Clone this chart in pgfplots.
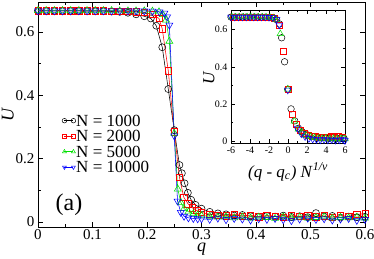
\documentclass[border=0pt]{standalone}
\usepackage{fontspec}
\setmainfont{Liberation Serif}
\usepackage{pgfplots}
\pgfplotsset{compat=1.18}
\definecolor{cred}{RGB}{255,0,0}
\definecolor{cgreen}{RGB}{0,225,0}
\definecolor{cblue}{RGB}{0,0,255}
\begin{document}
\begin{tikzpicture}
\path[use as bounding box] (-38pt,-31pt) rectangle (336pt,227pt);
\begin{axis}[at={(0pt,0pt)}, anchor=south west, scale only axis,
  width=327pt, height=225pt,
  xmin=0, xmax=0.6, ymin=-0.016, ymax=0.695,
  xtick={0,0.1,0.2,0.3,0.4,0.5,0.6}, xticklabels={0,0.1,0.2,0.3,0.4,0.5,0.6},
  ytick={0,0.2,0.4,0.6}, yticklabels={0,0.2,0.4,0.6},
  minor x tick num=1, minor y tick num=1,
  tick pos=both, tick align=inside,
  major tick length=5pt, minor tick length=3pt,
  every tick/.style={black, line width=0.6pt},
  axis line style={line width=0.8pt},
  tick label style={font=\fontsize{15}{15}\selectfont},
  xticklabel style={yshift=1pt},
  xlabel={\textit{q}}, ylabel={\textit{U}},
  label style={font=\fontsize{18}{18}\selectfont},
  xlabel style={at={(axis description cs:0.5,-0.11)}, anchor=base},
  ylabel style={at={(axis description cs:-0.092,0.5)}, anchor=center},
  legend style={draw=none, fill=none, at={(0.064,0.51)}, anchor=north west,
    font=\fontsize{17}{17}\selectfont, nodes={inner sep=0.5pt, text height=11.5pt, text depth=0pt}, row sep=3pt},
  legend cell align=left,
  legend image code/.code={\draw[#1, mark size=2.3pt, line width=0.5pt] plot coordinates {(0pt,0pt) (9pt,0pt)};},
]
\addplot[black, line width=0.55pt, mark=o, mark size=3.5pt] coordinates {
(0,0.667)(0.015,0.667)(0.03,0.667)(0.045,0.667)(0.06,0.667)(0.075,0.667)(0.09,0.666)(0.105,0.666)(0.12,0.666)(0.135,0.665)(0.15,0.664)(0.165,0.661)(0.18,0.656)(0.195,0.650)(0.207,0.643)(0.217,0.620)(0.228,0.552)(0.239,0.420)(0.25,0.290)(0.2595,0.180)(0.264,0.154)(0.269,0.122)(0.275,0.092)(0.281,0.070)(0.289,0.054)(0.30,0.042)(0.315,0.032)(0.33,0.027)(0.345,0.024)(0.36,0.020)(0.375,0.022)(0.39,0.018)(0.405,0.016)(0.42,0.019)(0.435,0.017)(0.45,0.020)(0.465,0.016)(0.48,0.018)(0.495,0.015)(0.51,0.028)(0.525,0.017)(0.54,0.019)(0.555,0.014)(0.57,0.017)(0.585,0.015)(0.60,0.016)};
\addlegendentry{N = 1000}
\addplot[cred, line width=0.55pt, mark=square, mark size=3.2pt] coordinates {
(0,0.667)(0.015,0.667)(0.03,0.667)(0.045,0.667)(0.06,0.667)(0.075,0.667)(0.09,0.667)(0.105,0.667)(0.12,0.667)(0.135,0.666)(0.15,0.666)(0.165,0.665)(0.18,0.664)(0.195,0.662)(0.21,0.656)(0.222,0.643)(0.228,0.61)(0.239,0.478)(0.25,0.285)(0.2595,0.141)(0.2675,0.078)(0.275,0.058)(0.283,0.045)(0.291,0.036)(0.30,0.030)(0.315,0.024)(0.33,0.022)(0.345,0.020)(0.36,0.025)(0.375,0.018)(0.39,0.022)(0.405,0.016)(0.42,0.020)(0.435,0.018)(0.45,0.015)(0.465,0.022)(0.48,0.017)(0.495,0.020)(0.51,0.016)(0.525,0.019)(0.54,0.015)(0.555,0.020)(0.57,0.018)(0.585,0.024)(0.60,0.026)};
\addlegendentry{N = 2000}
\addplot[cgreen, line width=0.55pt, mark=triangle, mark size=4pt] coordinates {
(0,0.668)(0.015,0.668)(0.03,0.668)(0.045,0.668)(0.06,0.668)(0.075,0.668)(0.09,0.668)(0.105,0.668)(0.12,0.668)(0.135,0.668)(0.15,0.667)(0.165,0.667)(0.18,0.667)(0.195,0.667)(0.21,0.666)(0.222,0.664)(0.229,0.655)(0.235,0.638)(0.241,0.571)(0.25,0.28)(0.2565,0.104)(0.262,0.062)(0.268,0.042)(0.276,0.032)(0.285,0.026)(0.293,0.022)(0.30,0.020)(0.315,0.018)(0.33,0.015)(0.345,0.017)(0.36,0.013)(0.375,0.016)(0.39,0.012)(0.405,0.015)(0.42,0.014)(0.435,0.011)(0.45,0.016)(0.465,0.013)(0.48,0.015)(0.495,0.012)(0.51,0.014)(0.525,0.016)(0.54,0.012)(0.555,0.014)(0.57,0.013)(0.585,0.015)(0.60,0.012)};
\addlegendentry{N = 5000}
\addplot[cblue, line width=0.55pt, mark=triangle, mark size=4pt, mark options={rotate=180}] coordinates {
(0,0.667)(0.015,0.667)(0.03,0.667)(0.045,0.667)(0.06,0.667)(0.075,0.667)(0.09,0.667)(0.105,0.667)(0.12,0.667)(0.135,0.667)(0.15,0.667)(0.165,0.667)(0.18,0.667)(0.195,0.667)(0.21,0.666)(0.2227,0.664)(0.232,0.660)(0.237,0.648)(0.241,0.622)(0.25,0.272)(0.256,0.066)(0.262,0.030)(0.268,0.018)(0.276,0.013)(0.285,0.011)(0.293,0.010)(0.30,0.010)(0.315,0.008)(0.33,0.012)(0.345,0.007)(0.36,0.011)(0.375,0.009)(0.39,0.006)(0.405,0.010)(0.42,0.008)(0.435,0.011)(0.45,0.007)(0.465,0.004)(0.48,0.009)(0.495,0.012)(0.51,0.008)(0.525,0.010)(0.54,0.006)(0.555,0.009)(0.57,0.011)(0.585,0.005)(0.60,0.008)};
\addlegendentry{N = 10000}
\node at (axis cs:0.057,0.054) {\fontsize{24}{24}\selectfont (a)};
\end{axis}
\begin{axis}[at={(193pt,84pt)}, anchor=south west, scale only axis,
  width=114pt, height=133pt,
  axis background/.style={fill=white},
  xmin=-6, xmax=6, ymin=-0.009, ymax=0.705,
  xtick={-6,-4,-2,0,2,4,6}, xticklabels={-6,-4,-2,0,2,4,6},
  ytick={0,0.2,0.4,0.6}, yticklabels={0,0.2,0.4,0.6},
  minor x tick num=1, minor y tick num=1,
  tick pos=both, tick align=inside,
  major tick length=4pt, minor tick length=2pt,
  every tick/.style={black, line width=0.5pt},
  axis line style={line width=0.7pt},
  tick label style={font=\fontsize{10}{10}\selectfont},
  xlabel={\textit{(q - q}\textsubscript{\textit{c}}\textit{) N}\textsuperscript{\textit{1/ν}}},
  ylabel={\textit{U}},
  label style={font=\fontsize{17}{17}\selectfont},
  xlabel style={at={(axis description cs:0.5,-0.218)}, anchor=center},
  ylabel style={at={(axis description cs:-0.193,0.49)}, anchor=center},
]
\addplot[black, only marks, mark=o, mark size=3.3pt, line width=0.5pt] coordinates {
(-6,0.667)(-5.6,0.667)(-5.2,0.667)(-4.8,0.667)(-4.4,0.667)(-4.0,0.667)(-3.6,0.667)(-3.2,0.667)(-2.8,0.666)(-2.4,0.666)(-2.0,0.665)(-1.6,0.662)(-1.2,0.653)(-0.9,0.63)(-0.67,0.556)(-0.36,0.427)(-0.02,0.28)(0.32,0.174)(0.7,0.11)(1.1,0.07)(1.5,0.05)(1.9,0.038)(2.3,0.03)(2.7,0.025)(3.1,0.02)(3.5,0.018)(3.9,0.02)(4.3,0.016)(4.7,0.018)(5.1,0.015)(5.5,0.017)(5.9,0.016)};
\addplot[cred, only marks, mark=square, mark size=3pt, line width=0.5pt] coordinates {
(-5.8,0.667)(-5.4,0.667)(-5.0,0.667)(-4.6,0.667)(-4.2,0.667)(-3.8,0.667)(-3.4,0.667)(-3.0,0.667)(-2.6,0.666)(-2.2,0.666)(-1.8,0.665)(-1.4,0.66)(-0.92,0.624)(-0.46,0.484)(-0.02,0.28)(0.48,0.144)(0.9,0.09)(1.3,0.06)(1.7,0.042)(2.1,0.035)(2.5,0.028)(2.9,0.025)(3.3,0.022)(3.7,0.024)(4.1,0.02)(4.5,0.025)(4.9,0.022)(5.3,0.026)(5.7,0.023)};
\addplot[cgreen, only marks, mark=triangle, mark size=3.8pt, line width=0.5pt] coordinates {
(-5.9,0.667)(-5.5,0.667)(-5.1,0.667)(-4.7,0.667)(-4.3,0.667)(-3.9,0.667)(-3.5,0.667)(-3.1,0.667)(-2.7,0.667)(-2.3,0.666)(-1.9,0.665)(-1.5,0.662)(-1.26,0.654)(-0.81,0.577)(-0.02,0.28)(0.66,0.108)(1.1,0.065)(1.5,0.045)(1.9,0.032)(2.4,0.025)(2.8,0.02)(3.2,0.016)(3.6,0.015)(4.0,0.017)(4.4,0.013)(4.8,0.015)(5.2,0.012)(5.6,0.014)(6.0,0.013)};
\addplot[cblue, only marks, mark=triangle, mark size=3.8pt, line width=0.5pt, mark options={rotate=180}] coordinates {
(-6,0.667)(-5.6,0.667)(-5.2,0.667)(-4.8,0.667)(-4.4,0.667)(-4.0,0.667)(-3.6,0.667)(-3.2,0.667)(-2.8,0.667)(-2.4,0.667)(-2.0,0.666)(-1.6,0.664)(-1.2,0.655)(-0.92,0.624)(-0.02,0.275)(0.95,0.072)(1.4,0.04)(1.8,0.025)(2.2,0.015)(2.6,0.012)(3.0,0.01)(3.4,0.008)(3.8,0.01)(4.2,0.007)(4.6,0.009)(5.0,0.006)(5.4,0.008)(5.8,0.01)(6.0,0.004)};
\end{axis}
\end{tikzpicture}
\end{document}
